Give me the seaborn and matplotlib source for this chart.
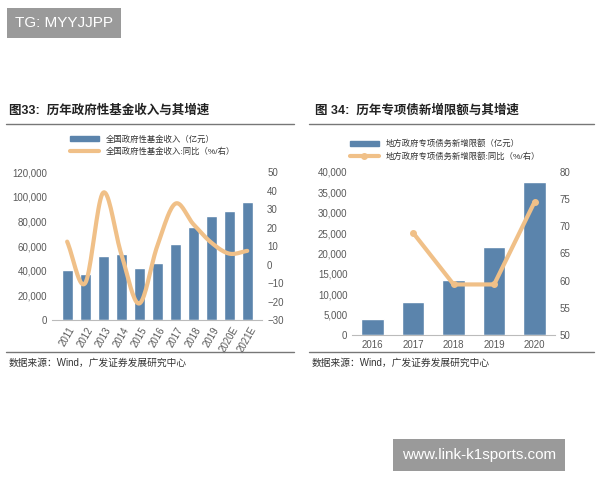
import numpy as np
import pandas as pd
import seaborn as sns
import matplotlib.pyplot as plt
from matplotlib.lines import Line2D
from matplotlib.patches import Patch

sns.set_style("white")
plt.rcParams['font.family'] = ['Liberation Sans', 'Noto Sans CJK SC', 'DejaVu Sans']

years_a = ['2011', '2012', '2013', '2014', '2015', '2016', '2017', '2018', '2019', '2020E', '2021E']
income_a = [41000, 37500, 52000, 54000, 42300, 46600, 61500, 75500, 84500, 89000, 96000]
growth_a = [12.5, -10, 39, 6, -21, 10, 33, 22, 12, 6, 7.5]

years_b = ['2016', '2017', '2018', '2019', '2020']
quota_b = [4000, 8000, 13500, 21500, 37500]
growth_b = [np.nan, 68.8, 59.3, 59.3, 74.5]

BAR = '#5b84ac'
LINE = '#f0c088'
TXT = '#595959'


def smooth(xs, ys, n=20):
    # catmull-rom curve for drawing only
    xs = np.asarray(xs, float); ys = np.asarray(ys, float)
    px = np.concatenate([[2 * xs[0] - xs[1]], xs, [2 * xs[-1] - xs[-2]]])
    py = np.concatenate([[2 * ys[0] - ys[1]], ys, [2 * ys[-1] - ys[-2]]])
    ox, oy = [], []
    t = np.linspace(0, 1, n)
    for i in range(1, len(px) - 2):
        for p, o in ((px, ox), (py, oy)):
            p0, p1, p2, p3 = p[i - 1:i + 3]
            o.extend(0.5 * (2 * p1 + (-p0 + p2) * t + (2 * p0 - 5 * p1 + 4 * p2 - p3) * t ** 2
                            + (-p0 + 3 * p1 - 3 * p2 + p3) * t ** 3))
    return ox, oy


fig = plt.figure(figsize=(6, 4.8), dpi=100)

# watermark boxes
fig.text(0.025, 0.952, 'TG: MYYJJPP', fontsize=11, color='white', va='center',
         bbox=dict(boxstyle='square,pad=0.5', fc='#9a9a9a', ec='none'))
fig.text(0.67, 0.052, 'www.link-k1sports.com', fontsize=11, color='white', va='center',
         bbox=dict(boxstyle='square,pad=0.6', fc='#9a9a9a', ec='none'))

# titles and rules
fig.text(0.015, 0.763, '图33:  历年政府性基金收入与其增速', fontsize=9, weight='bold', color='#222222')
fig.text(0.525, 0.763, '图 34:  历年专项债新增限额与其增速', fontsize=9, weight='bold', color='#222222')
for x0, x1 in [(0.01, 0.49), (0.515, 0.99)]:
    fig.add_artist(Line2D([x0, x1], [0.742, 0.742], color='#777777', lw=1))
    fig.add_artist(Line2D([x0, x1], [0.267, 0.267], color='#777777', lw=1))
fig.text(0.015, 0.237, '数据来源：Wind，广发证券发展研究中心', fontsize=7, color='#333333')
fig.text(0.52, 0.237, '数据来源：Wind，广发证券发展研究中心', fontsize=7, color='#333333')

# left chart
ax1 = fig.add_axes([0.087, 0.333, 0.35, 0.308])
df_a = pd.DataFrame({'year': years_a, 'income': income_a})
sns.barplot(data=df_a, x='year', y='income', color=BAR, saturation=1, width=0.6, ax=ax1)
ax1.set_ylim(0, 120000)
ax1.set_yticks(range(0, 120001, 20000))
ax1.set_yticklabels([f'{v:,}' for v in range(0, 120001, 20000)])
ax1.tick_params(axis='x', rotation=60, labelsize=7, colors=TXT, length=0)
ax1.tick_params(axis='y', labelsize=7, colors=TXT, length=0)
ax1.set_xlabel(''); ax1.set_ylabel('')
for s in ['top', 'right', 'left']:
    ax1.spines[s].set_visible(False)
ax1.spines['bottom'].set_color('#bbbbbb')
ax1b = ax1.twinx()
sx, sy = smooth(range(len(years_a)), growth_a)
ax1b.plot(sx, sy, color=LINE, lw=3)
ax1b.set_ylim(-30, 50)
ax1b.set_yticks(range(-30, 51, 10))
ax1b.tick_params(axis='y', labelsize=7, colors=TXT, length=0)
for s in ax1b.spines.values():
    s.set_visible(False)
ax1.legend(handles=[Patch(color=BAR, label='全国政府性基金收入（亿元）'),
                    Line2D([], [], color=LINE, lw=3, label='全国政府性基金收入:同比（%/右）')],
           loc='lower left', bbox_to_anchor=(0.05, 1.06), frameon=False, fontsize=6,
           labelcolor='#333333', handlelength=3.5)

# right chart
ax2 = fig.add_axes([0.587, 0.302, 0.338, 0.34])
df_b = pd.DataFrame({'year': years_b, 'quota': quota_b})
sns.barplot(data=df_b, x='year', y='quota', color=BAR, saturation=1, width=0.55, ax=ax2)
ax2.set_ylim(0, 40000)
ax2.set_yticks(range(0, 40001, 5000))
ax2.set_yticklabels([f'{v:,}' for v in range(0, 40001, 5000)])
ax2.tick_params(axis='x', labelsize=7, colors=TXT, length=0)
ax2.tick_params(axis='y', labelsize=7, colors=TXT, length=0)
ax2.set_xlabel(''); ax2.set_ylabel('')
for s in ['top', 'right', 'left']:
    ax2.spines[s].set_visible(False)
ax2.spines['bottom'].set_color('#bbbbbb')
ax2b = ax2.twinx()
ax2b.plot(range(len(years_b)), growth_b, color=LINE, lw=3, marker='o', markersize=4)
ax2b.set_ylim(50, 80)
ax2b.set_yticks(range(50, 81, 5))
ax2b.tick_params(axis='y', labelsize=7, colors=TXT, length=0)
for s in ax2b.spines.values():
    s.set_visible(False)
ax2.legend(handles=[Patch(color=BAR, label='地方政府专项债务新增限额（亿元）'),
                    Line2D([], [], color=LINE, lw=3, marker='o', markersize=4,
                           label='地方政府专项债务新增限额:同比（%/右）')],
           loc='lower left', bbox_to_anchor=(-0.05, 1.02), frameon=False, fontsize=6,
           labelcolor='#333333', handlelength=3.5)

fig.savefig('out.png', dpi=100)
